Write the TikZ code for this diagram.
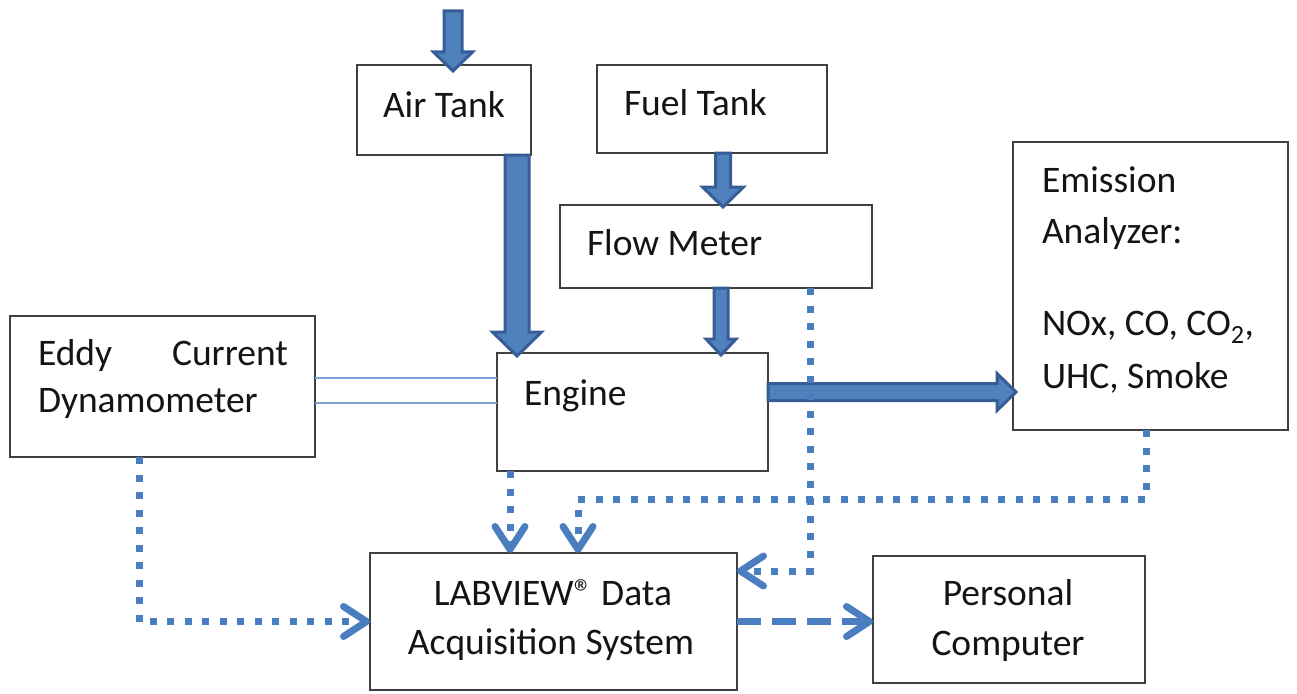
\documentclass[tikz,border=0pt]{standalone}
\usepackage{fontspec}
\setmainfont{Carlito}
\usetikzlibrary{calc,arrows.meta}
\definecolor{boxline}{RGB}{64,64,64}
\definecolor{txtcol}{RGB}{20,20,20}
\definecolor{dotblue}{RGB}{74,126,193}
\definecolor{arrfill}{RGB}{79,129,189}
\definecolor{arrline}{RGB}{56,93,150}
\definecolor{linkblue}{RGB}{125,160,210}
% vertical block arrow: start, tip, shaft half-width, head half-width, head length
\newcommand\varrow[5]{\filldraw[blockarrow] let \p1=(#1),\p2=(#2) in
  (\x1-#3,\y1) -- (\x1+#3,\y1) -- (\x1+#3,\y2+#5) -- (\x1+#4,\y2+#5) -- (\x1,\y2)
  -- (\x1-#4,\y2+#5) -- (\x1-#3,\y2+#5) -- cycle;}
% horizontal block arrow (left to right)
\newcommand\harrow[5]{\filldraw[blockarrow] let \p1=(#1),\p2=(#2) in
  (\x1,\y1+#3) -- (\x2-#5,\y1+#3) -- (\x2-#5,\y1+#4) -- (\x2,\y1)
  -- (\x2-#5,\y1-#4) -- (\x2-#5,\y1-#3) -- (\x1,\y1-#3) -- cycle;}
\begin{document}
\begin{tikzpicture}[x=1pt,y=-1pt,
  box/.style={draw=boxline, line width=2pt, inner sep=0pt, outer sep=0pt, fill=white},
  txt/.style={inner sep=0pt, outer sep=0pt, text=txtcol, font=\fontsize{37.5}{45}\selectfont},
  blockarrow/.style={fill=arrfill, draw=arrline, line width=3pt, line join=miter},
  chev/.style={-{Straight Barb[length=23pt,width=30pt,round]}},
  dotconn/.style={draw=dotblue, line width=7pt, dash pattern=on 7pt off 10.5pt, chev},
  dashconn/.style={draw=dotblue, line width=7pt, dash pattern=on 24pt off 11pt, chev},
  link/.style={draw=linkblue, line width=2pt}]
\useasboundingbox (0,0) rectangle (1297,693);

% boxes
\node[box, minimum width=174pt, minimum height=90pt] (airtank) at (444,110) {};
\node[box, minimum width=230pt, minimum height=88pt] (fueltank) at (712,109) {};
\node[box, minimum width=312pt, minimum height=83pt] (flow) at (716,246.5) {};
\node[box, minimum width=275pt, minimum height=288pt] (emission) at (1150.5,286) {};
\node[box, minimum width=305pt, minimum height=141pt] (dyn) at (162.5,386.5) {};
\node[box, minimum width=271pt, minimum height=118pt] (engine) at (632.5,412) {};
\node[box, minimum width=367pt, minimum height=137pt] (labview) at (553.5,621.5) {};
\node[box, minimum width=272pt, minimum height=127pt] (pc) at (1009,619.5) {};

% texts
\node[txt, anchor=base west] (airtank-t) at (383,117) {Air Tank};
\node[txt, anchor=base west] (fueltank-t) at (624,115) {Fuel Tank};
\node[txt, anchor=base west] (flow-t) at (587,255) {Flow Meter};
\node[txt, anchor=base west] (emission-t1) at (1042,192) {Emission};
\node[txt, anchor=base west] (emission-t2) at (1042,243) {Analyzer:};
\node[txt, anchor=base west] (emission-t3) at (1042,335) {NOx, CO, CO\textsubscript{2},};
\node[txt, anchor=base west] (emission-t4) at (1042,388) {UHC, Smoke};
\node[txt, anchor=base west] (dyn-t1) at (38,365) {\makebox[250pt][l]{Eddy\hfill Current}};
\node[txt, anchor=base west] (dyn-t2) at (38,412) {Dynamometer};
\node[txt, anchor=base west] (engine-t) at (524,405) {Engine};
\node[txt, anchor=base] (labview-t1) at (553,605) {LABVIEW\textregistered{} Data};
\node[txt, anchor=base] (labview-t2) at (551,654) {Acquisition System};
\node[txt, anchor=base] (pc-t1) at (1008,605) {Personal};
\node[txt, anchor=base] (pc-t2) at (1008,655) {Computer};

% dynamometer - engine coupling
\draw[link] ([yshift=8.5]dyn.east) -- ([yshift=8.5]dyn.east -| engine.west);
\draw[link] ([yshift=-16.5]dyn.east) -- ([yshift=-16.5]dyn.east -| engine.west);

% block arrows
\coordinate (airsrc) at (453,11);
\varrow{airsrc}{[yshift=-6]airsrc |- airtank.north}{9pt}{19.5pt}{19pt}
\varrow{[xshift=73]airtank.south}{[yshift=-3]airtank.south |- engine.north}{12pt}{24.5pt}{24pt}
\varrow{[xshift=11]fueltank.south}{[xshift=11,yshift=-2]fueltank.south |- flow.north}{7.5pt}{20.5pt}{20pt}
\varrow{[xshift=5]flow.south}{[xshift=5,yshift=-2]flow.south |- engine.north}{7pt}{15pt}{16pt}
\harrow{[yshift=20]engine.east}{[yshift=20,xshift=3]engine.east -| emission.west}{8.5pt}{18.5pt}{19pt}

% dotted connectors
\draw[dotconn] ([xshift=-23.5]dyn.south) |- (labview.west);
\draw[dotconn] ([xshift=-122.5]engine.south) -- ([xshift=-122.5]engine.south |- labview.north);
\draw[dotconn] ([xshift=-4.5]emission.south) -- ++(0,69) -| ([xshift=24.5]labview.north);
\draw[dotconn] ([xshift=94]flow.south) |- ([yshift=50.5]labview.east);
\draw[dashconn] (labview.east) -- (labview.east -| pc.west);
\end{tikzpicture}
\end{document}
